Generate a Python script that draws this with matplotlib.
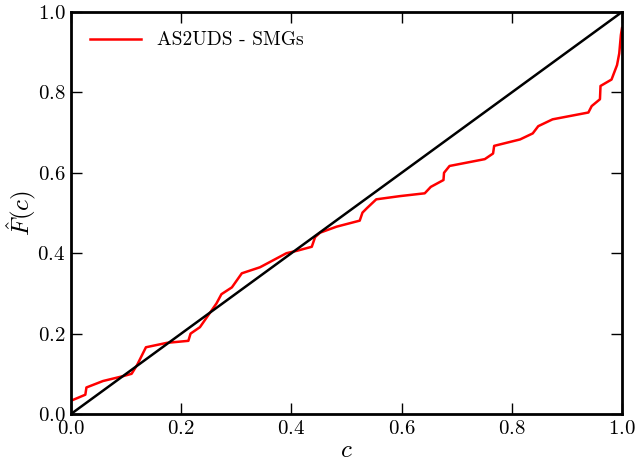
import matplotlib
matplotlib.use("Agg")
import matplotlib.pyplot as plt

plt.rcParams["font.family"] = "serif"
plt.rcParams["font.serif"] = ["cmr10"]
plt.rcParams["mathtext.fontset"] = "cm"
plt.rcParams["axes.formatter.use_mathtext"] = True

# cumulative distribution
c_vals = [0.0, 0.026, 0.028, 0.058, 0.094, 0.110, 0.120, 0.136, 0.174,
          0.213, 0.217, 0.234, 0.264, 0.273, 0.292, 0.310, 0.343, 0.391,
          0.410, 0.437, 0.443, 0.452, 0.482, 0.524, 0.529, 0.537, 0.554,
          0.597, 0.642, 0.653, 0.676, 0.677, 0.687, 0.751, 0.766, 0.768,
          0.815, 0.838, 0.848, 0.874, 0.939, 0.945, 0.960, 0.961, 0.981,
          0.991, 0.995, 0.998, 1.0]
f_vals = [0.033, 0.048, 0.066, 0.082, 0.094, 0.100, 0.122, 0.166, 0.177,
          0.182, 0.200, 0.216, 0.275, 0.298, 0.315, 0.350, 0.365, 0.400,
          0.406, 0.416, 0.440, 0.451, 0.466, 0.481, 0.501, 0.512, 0.534,
          0.542, 0.549, 0.565, 0.582, 0.600, 0.617, 0.634, 0.648, 0.667,
          0.683, 0.698, 0.716, 0.733, 0.750, 0.766, 0.783, 0.816, 0.832,
          0.868, 0.897, 0.943, 0.960]

fig = plt.figure(figsize=(6.37, 4.66), dpi=100)
ax = fig.add_axes([71 / 637, 52 / 466, 551 / 637, 402 / 466])

ax.plot(c_vals, f_vals, color="red", lw=1.8, label="AS2UDS - SMGs")
ax.plot([0, 1], [0, 1], color="black", lw=1.8)

ax.set_xlim(0, 1)
ax.set_ylim(0, 1)
ax.set_xlabel("$c$", fontsize=18, labelpad=2)
ax.set_ylabel(r"$\hat{F}(c)$", fontsize=18, labelpad=-1)

for s in ax.spines.values():
    s.set_linewidth(2)
ax.tick_params(direction="in", top=True, right=True, length=8, width=1,
               labelsize=15, pad=4)

ax.legend(loc="upper left", frameon=False, fontsize=14, handlelength=2.6,
          borderaxespad=0.6)

fig.savefig("out.png", dpi=100)
